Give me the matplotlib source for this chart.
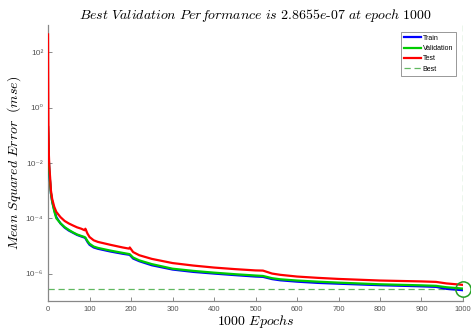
import matplotlib
matplotlib.use("Agg")
import matplotlib.pyplot as plt

plt.rcParams['mathtext.fontset'] = 'cm'

# values
epochs = [0, 1, 2, 3, 5, 7, 10, 15, 20, 30, 40, 50, 60, 70, 80, 88, 90, 95, 100, 110, 120,
          150, 180, 195, 197, 205, 220, 250, 300, 350, 400, 450, 500, 518, 540, 560,
          600, 650, 700, 800, 900, 935, 960, 1000]
train = [0.2, 0.05, 0.012, 0.005, 2e-3, 8e-4, 4e-4, 2e-4, 1.1e-4, 6.5e-5, 4.6e-5, 3.6e-5,
         3e-5, 2.5e-5, 2.2e-5, 2.0e-5, 1.9e-5, 1.4e-5, 1.1e-5, 8.8e-6, 7.9e-6,
         6.3e-6, 5.2e-6, 4.8e-6, 4.7e-6, 3.5e-6, 2.8e-6, 2e-6, 1.4e-6, 1.15e-6, 1.0e-6,
         8.8e-7, 7.8e-7, 7.6e-7, 6.3e-7, 5.7e-7, 5.1e-7, 4.6e-7, 4.3e-7, 3.8e-7, 3.45e-7,
         3.3e-7, 2.8e-7, 2.5e-7]
validation = [0.2, 0.05, 0.012, 0.005, 2e-3, 8e-4, 4e-4, 1.8e-4, 1.0e-4, 6.6e-5, 4.8e-5, 3.8e-5,
              3.1e-5, 2.6e-5, 2.3e-5, 2.1e-5, 2.0e-5, 1.5e-5, 1.2e-5, 9.5e-6, 8.5e-6,
              6.8e-6, 5.6e-6, 5.1e-6, 5.0e-6, 3.8e-6, 3e-6, 2.2e-6, 1.5e-6, 1.25e-6, 1.08e-6,
              9.5e-7, 8.5e-7, 8.2e-7, 6.8e-7, 6.2e-7, 5.6e-7, 5.1e-7, 4.7e-7, 4.1e-7, 3.75e-7,
              3.6e-7, 3.2e-7, 2.8655e-7]
test = [450, 0.2, 0.02, 0.008, 3e-3, 1e-3, 5e-4, 2.6e-4, 1.7e-4, 1.1e-4, 8e-5, 6.5e-5,
        5.5e-5, 4.7e-5, 4.2e-5, 3.7e-5, 4.2e-5, 2.8e-5, 2.1e-5, 1.6e-5, 1.4e-5,
        1.1e-5, 8.8e-6, 8e-6, 8.8e-6, 6e-6, 4.6e-6, 3.4e-6, 2.4e-6, 1.95e-6, 1.65e-6,
        1.45e-6, 1.3e-6, 1.28e-6, 1.0e-6, 9e-7, 7.8e-7, 7e-7, 6.4e-7, 5.6e-7, 5.2e-7,
        5.0e-7, 4.4e-7, 3.9e-7]
best_epoch = 1000
best_perf = 2.8655e-07
ytick_vals = [1e-6, 1e-4, 1e-2, 1e0, 1e2]
ytick_labels = ['10⁻⁶', '10⁻⁴', '10⁻²', '10⁰', '10²']

fig = plt.figure(figsize=(4.71, 3.31), dpi=100)
ax = fig.add_axes([0.102, 0.09, 0.881, 0.835])

ax.plot(epochs, train, color='#0000ff', lw=1.6, label='Train', zorder=3)
ax.plot(epochs, validation, color='#00cc00', lw=1.6, label='Validation', zorder=3)
ax.plot(epochs, test, color='#ff0000', lw=1.6, label='Test', zorder=3)
ax.axhline(best_perf, color='#60b860', lw=0.9, ls=(0, (5, 3)), label='Best')
ax.axvline(best_epoch, color='#60b860', lw=0.9, ls=(0, (5, 3)))
ax.plot([best_epoch], [best_perf], 'o', ms=11, mfc='none', mec='#22a022', mew=1.1,
        clip_on=False, zorder=4)

ax.set_yscale('log')
ax.set_xlim(0, 1000)
ax.set_ylim(1e-7, 1e3)
ax.set_xticks(range(0, 1001, 100))
ax.set_yticks(ytick_vals)
ax.set_yticklabels(ytick_labels, family=['Liberation Sans', 'DejaVu Sans'])
ax.minorticks_off()
ax.tick_params(direction='in', length=3, width=0.6, colors='#777777', labelsize=5.5,
               labelcolor='#555555')
ax.tick_params(axis='y', labelsize=6)
for lbl in ax.get_xticklabels():
    lbl.set_family(['Liberation Sans', 'DejaVu Sans'])
for s in ['top', 'right']:
    ax.spines[s].set_visible(False)
for s in ['left', 'bottom']:
    ax.spines[s].set_color('#888888')
    ax.spines[s].set_linewidth(0.9)

ax.set_title(r'$\mathit{Best\ Validation\ Performance\ is\ 2.8655e}\text{-}\mathit{07\ at\ epoch\ 1000}$',
             fontsize=10, pad=4)
ax.set_xlabel(r'$\mathit{1000\ Epochs}$', fontsize=10, labelpad=0)
ax.set_ylabel(r'$Mean\ Squared\ Error\ \ (mse)$', fontsize=10, labelpad=2)

leg = ax.legend(loc='upper right', bbox_to_anchor=(0.983, 0.975), fontsize=5, fancybox=False,
                framealpha=1, edgecolor='#888888', handlelength=2.4, handletextpad=0.3,
                borderpad=0.4, labelspacing=0.5, borderaxespad=0,
                prop={'family': ['Liberation Sans', 'DejaVu Sans'], 'size': 5})
leg.get_frame().set_linewidth(0.6)

fig.savefig('out.png', dpi=100)
